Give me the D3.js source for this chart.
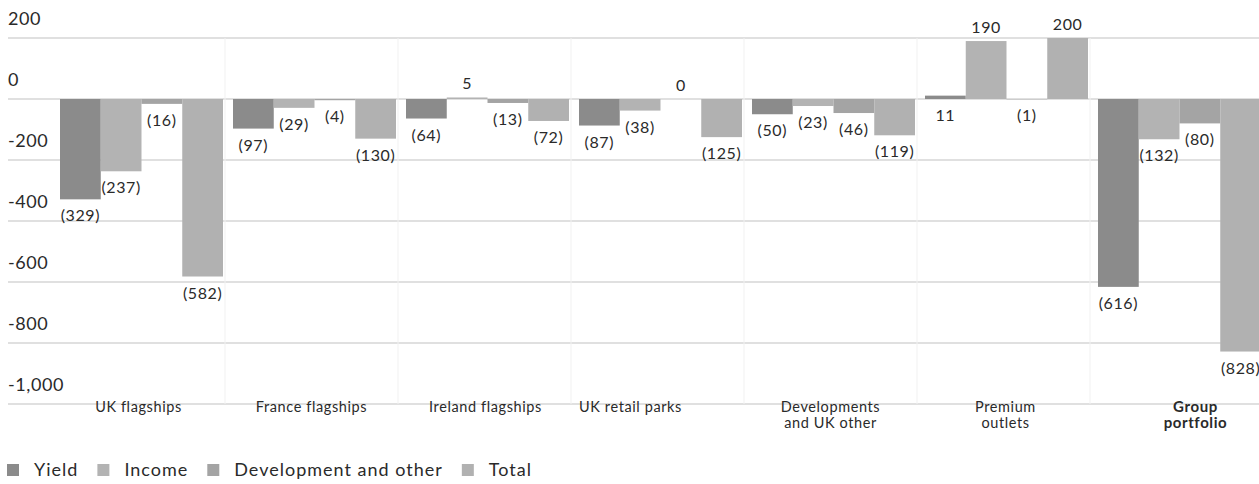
<!DOCTYPE html>
<html>
<head>
<meta charset="utf-8">
<script src="https://cdn.jsdelivr.net/npm/d3@7"></script>
<style>
    body { margin: 0; background: #fff; }
    text { font-family: Lato, "Noto Sans", sans-serif; fill: #2a2a2a; }
</style>
</head>
<body>
<div id="chart"></div>
<script>
// chart data
// chart data

var categories = ["UK flagships", "France flagships", "Ireland flagships", "UK retail parks",
                  "Developments\nand UK other", "Premium\noutlets", "Group\nportfolio"];
var series = ["Yield", "Income", "Development and other", "Total"];
var yieldValues  = [-329, -97, -64, -87, -50, 11, -616];
var incomeValues = [-237, -29, 5, -38, -23, 190, -132];
var devValues    = [-16, -4, -13, 0, -46, -1, -80];
var totalValues  = [-582, -130, -72, -125, -119, 200, -828];
var yTicks = [200, 0, -200, -400, -600, -800, -1000];

// layout tweaks (not data)
var colors = ["#8b8b8b", "#b3b3b3", "#a4a4a4", "#b1b1b1"];
var catLabelDx = [-3, -3, -2, -30, -3, -1, 16];
var labelsBelow = ["Premium\noutlets|Yield"];

var width = 1259, height = 484,
    margin = {top: 38, right: 0, bottom: 80, left: 55};

var svg = d3.select("#chart").append("svg")
    .attr("width", width)
    .attr("height", height);

var y = d3.scaleLinear()
    .domain([-1000, 200])
    .range([404, 38]);

var x0 = d3.scaleBand()
    .domain(categories)
    .range([margin.left, margin.left + 173 * categories.length]);

var x1 = d3.scaleBand()
    .domain(series)
    .range([5, x0.bandwidth() - 5]);

// grid lines + tick labels
// grid lines + tick labels

svg.append("g").selectAll("line")
    .data(yTicks)
    .enter().append("line")
    .attr("x1", 8)
    .attr("x2", width)
    .attr("y1", function(d) { return y(d); })
    .attr("y2", function(d) { return y(d); })
    .style("stroke", "#d6d6d6")
    .style("stroke-width", 1.5);

svg.append("g").selectAll("line")
    .data(categories.slice(1))
    .enter().append("line")
    .attr("x1", function(d) { return x0(d) - 3; })
    .attr("x2", function(d) { return x0(d) - 3; })
    .attr("y1", y(200))
    .attr("y2", y(-1000))
    .style("stroke", "#f1f1f1")
    .style("stroke-width", 1);

svg.append("g").selectAll("text")
    .data(yTicks)
    .enter().append("text")
    .attr("x", 8)
    .attr("y", function(d) { return y(d) - 13; })
    .style("font-size", "18px")
    .style("letter-spacing", "0.6px")
    .text(function(d) { return d3.format(",")(d).replace("\u2212", "-"); });

// bars
// bars

var rows = [];
categories.forEach(function(c, i) {
    var vals = [yieldValues[i], incomeValues[i], devValues[i], totalValues[i]];
    series.forEach(function(s, j) {
        rows.push({cat: c, ser: s, idx: j, value: vals[j]});
    });
});

svg.append("g").selectAll("rect")
    .data(rows)
    .enter().append("rect")
    .attr("x", function(d) { return x0(d.cat) + x1(d.ser); })
    .attr("y", function(d) { return y(Math.max(0, d.value)); })
    .attr("width", x1.bandwidth())
    .attr("height", function(d) { return Math.abs(y(d.value) - y(0)); })
    .style("fill", function(d) { return colors[d.idx]; });

// value labels
// value labels

svg.append("g").selectAll("text")
    .data(rows)
    .enter().append("text")
    .attr("x", function(d) { return x0(d.cat) + x1(d.ser) + x1.bandwidth() / 2; })
    .attr("y", function(d) {
        var below = d.value < 0 || labelsBelow.indexOf(d.cat + "|" + d.ser) > -1;
        if (below) return y(Math.min(0, d.value)) + 22;
        return y(d.value) - 8;
    })
    .style("text-anchor", "middle")
    .style("font-size", "16px")
    .style("letter-spacing", "0.6px")
    .text(function(d) { return d.value < 0 ? "(" + Math.abs(d.value) + ")" : d.value; });

// category labels
// category labels

var catText = svg.append("g").selectAll("text")
    .data(categories)
    .enter().append("text")
    .attr("x", function(d, i) { return x0(d) + x0.bandwidth() / 2 + catLabelDx[i]; })
    .attr("y", 412)
    .style("text-anchor", "middle")
    .style("font-size", function(d, i) { return i == categories.length - 1 ? "15px" : "14.5px"; })
    .style("letter-spacing", "0.6px")
    .style("font-weight", function(d, i) { return i == categories.length - 1 ? "bold" : "normal"; });

catText.each(function(d) {
    var el = d3.select(this);
    d.split("\n").forEach(function(line, k) {
        el.append("tspan")
            .attr("x", el.attr("x"))
            .attr("dy", k == 0 ? 0 : 16)
            .text(line);
    });
});

// legend
// legend

var legend = svg.append("g");
var lx = 7;
series.forEach(function(s, j) {
    legend.append("rect")
        .attr("x", lx)
        .attr("y", 464)
        .attr("width", 12)
        .attr("height", 12)
        .style("fill", colors[j]);
    var t = legend.append("text")
        .attr("x", lx + 27)
        .attr("y", 476)
        .style("font-size", "18px")
        .style("letter-spacing", "1px")
        .text(s);
    lx = lx + 27 + t.node().getComputedTextLength() + 19;
});
</script>
</body>
</html>
